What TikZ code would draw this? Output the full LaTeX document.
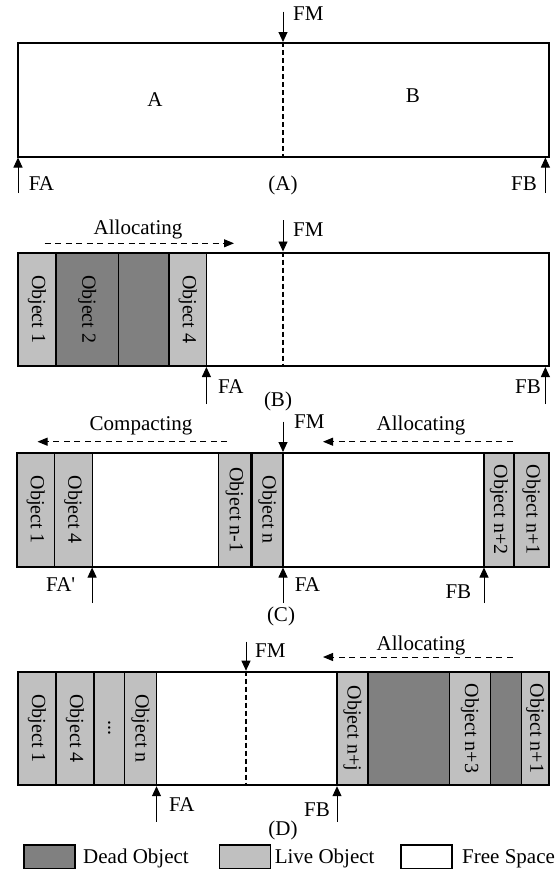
\documentclass[tikz,border=0pt]{standalone}
\usepackage{fontspec}
\setmainfont{Liberation Serif}
\usetikzlibrary{arrows.meta}
\definecolor{deadc}{HTML}{808080}
\definecolor{livec}{HTML}{C0C0C0}
\newcommand\hfnt{\fontsize{21}{25}\selectfont}
\newcommand\vfnt{\fontsize{20}{24}\selectfont}
\newcommand\memcell[7]{%
  \node[cellbox, fill=#6, minimum width={(#3-#2)*1pt}, minimum height={(#5-#4)*1pt}] (#1) at ({(#2+#3)/2},{(#4+#5)/2}) {\rotatebox{-90}{#7}};}
\newcommand\memframe[5]{%
  \node[framebox, minimum width={(#3-#2)*1pt}, minimum height={(#5-#4)*1pt}] (#1) at ({(#2+#3)/2},{(#4+#5)/2}) {};}
\tikzset{
 cellbox/.style={draw, line width=1.2pt, inner sep=0pt, outer sep=0pt, font=\vfnt},
 framebox/.style={draw, line width=2pt, inner sep=0pt},
 lbl/.style={font=\hfnt, inner sep=0pt},
 ptr/.style={line width=0.9pt, -{Triangle[width=9pt,length=10pt]}},
 dptr/.style={line width=1pt, dash pattern=on 6pt off 4.5pt, -{Triangle[width=8pt,length=10pt]}},
 midline/.style={line width=1.3pt, dash pattern=on 5pt off 3pt},
 legbox/.style={draw, line width=1.2pt, minimum width=51pt, minimum height=23.3pt, inner sep=0pt},
}
\begin{document}
\begin{tikzpicture}[x=1pt,y=-1pt]
\useasboundingbox (0,0) rectangle (560,871);

% ---------------- Panel A ----------------
\memframe{frA}{18}{549}{43}{156.5}
\coordinate (fmA) at (283,11.7);
\coordinate (faA) at (18,193);
\coordinate (fbA) at (545.4,193);
\draw[midline] (frA.north -| fmA) -- (frA.south -| fmA);
\draw[ptr] (fmA) -- (fmA |- frA.north);
\draw[ptr] (faA) -- (faA |- frA.south);
\draw[ptr] (fbA) -- (fbA |- frA.south);
\node[lbl, anchor=base west] (tFMa) at (293,20) {FM};
\node[lbl, anchor=base] (tAa) at (155,106) {A};
\node[lbl, anchor=base] (tBa) at (413,102) {B};
\node[lbl, anchor=base west] (tFAa) at (28.6,190) {FA};
\node[lbl, anchor=base east] (tFBa) at (537,190) {FB};
\node[lbl, anchor=base] (capA) at (283,190) {(A)};

% ---------------- Panel B ----------------
\memcell{b1}{18}{56}{252.5}{366}{livec}{Object 1}
\memcell{b2}{56}{118.2}{252.5}{366}{deadc}{Object 2}
\memcell{b3}{118.2}{169}{252.5}{366}{deadc}{}
\memcell{b4}{169}{206.4}{252.5}{366}{livec}{Object 4}
\memframe{frB}{18}{549}{252.5}{366}
\coordinate (fmB) at (283,220);
\coordinate (faB) at (206.4,404);
\coordinate (fbB) at (545.4,404);
\coordinate (alB1) at (44.6,243.3);
\coordinate (alB2) at (234,243.3);
\draw[midline] (frB.north -| fmB) -- (frB.south -| fmB);
\draw[ptr] (fmB) -- (fmB |- frB.north);
\draw[ptr] (faB) -- (faB |- frB.south);
\draw[ptr] (fbB) -- (fbB |- frB.south);
\draw[dptr] (alB1) -- (alB2);
\node[lbl, anchor=base] (tAlB) at (138,234) {Allocating};
\node[lbl, anchor=base west] (tFMb) at (293,236) {FM};
\node[lbl, anchor=base west] (tFAb) at (218,393) {FA};
\node[lbl, anchor=base east] (tFBb) at (541,393) {FB};
\node[lbl, anchor=base] (capB) at (278,406) {(B)};

% ---------------- Panel C ----------------
\memcell{c1}{17}{54.3}{453}{566.5}{livec}{Object 1}
\memcell{c2}{54.3}{92.1}{453}{566.5}{livec}{Object 4}
\memcell{c3}{218.6}{250.6}{453}{566.5}{livec}{Object n-1}
\memcell{c4}{252}{283}{453}{566.5}{livec}{Object n}
\memcell{c5}{484}{514}{453}{566.5}{livec}{Object n+2}
\memcell{c6}{514}{549}{453}{566.5}{livec}{Object n+1}
\memframe{frC}{17}{549}{453}{566.5}
\coordinate (fmC) at (283,421.7);
\coordinate (fapC) at (92.1,603);
\coordinate (faC) at (283,603);
\coordinate (fbC) at (484,603);
\coordinate (cpC1) at (227,441.7);
\coordinate (cpC2) at (37.5,441.7);
\coordinate (alC1) at (512.5,441.7);
\coordinate (alC2) at (323,441.7);
\draw[ptr] (fmC) -- (fmC |- frC.north);
\draw[ptr] (fapC) -- (fapC |- frC.south);
\draw[ptr] (faC) -- (faC |- frC.south);
\draw[ptr] (fbC) -- (fbC |- frC.south);
\draw[dptr] (cpC1) -- (cpC2);
\draw[dptr] (alC1) -- (alC2);
\node[lbl, anchor=base] (tCpC) at (141,430) {Compacting};
\node[lbl, anchor=base] (tAlC) at (421,430) {Allocating};
\node[lbl, anchor=base west] (tFMc) at (294,428) {FM};
\node[lbl, anchor=base] (tFApC) at (60.7,591.7) {FA\textquotesingle};
\node[lbl, anchor=base west] (tFAc) at (294.6,591.7) {FA};
\node[lbl, anchor=base east] (tFBc) at (471.4,598) {FB};
\node[lbl, anchor=base] (capC) at (281,621.7) {(C)};

% ---------------- Panel D ----------------
\memcell{d1}{18}{56}{671.7}{785.2}{livec}{Object 1}
\memcell{d2}{56}{94}{671.7}{785.2}{livec}{Object 4}
\memcell{d3}{94}{124.3}{671.7}{785.2}{livec}{...}
\memcell{d4}{124.3}{156.5}{671.7}{785.2}{livec}{Object n}
\memcell{d5}{337}{367.9}{671.7}{785.2}{livec}{Object n+j}
\memcell{d6}{367.9}{449.3}{671.7}{785.2}{deadc}{}
\memcell{d7}{449.3}{490.4}{671.7}{785.2}{livec}{Object n+3}
\memcell{d8}{490.4}{521.4}{671.7}{785.2}{deadc}{}
\memcell{d9}{521.4}{549}{671.7}{785.2}{livec}{Object n+1}
\memframe{frD}{18}{549}{671.7}{785.2}
\coordinate (fmD) at (246,641.7);
\coordinate (faD) at (156.5,821.7);
\coordinate (fbD) at (337,821.7);
\coordinate (alD1) at (512.5,657);
\coordinate (alD2) at (323,657);
\draw[midline] (frD.north -| fmD) -- (frD.south -| fmD);
\draw[ptr] (fmD) -- (fmD |- frD.north);
\draw[ptr] (faD) -- (faD |- frD.south);
\draw[ptr] (fbD) -- (fbD |- frD.south);
\draw[dptr] (alD1) -- (alD2);
\node[lbl, anchor=base] (tAlD) at (421,650) {Allocating};
\node[lbl, anchor=base west] (tFMd) at (255,657.3) {FM};
\node[lbl, anchor=base west] (tFAd) at (169,811.7) {FA};
\node[lbl, anchor=base east] (tFBd) at (330,816.3) {FB};
\node[lbl, anchor=base] (capD) at (283,835) {(D)};

% ---------------- Legend ----------------
\node[legbox, fill=deadc] (lgDead) at (49.5,856.6) {};
\node[lbl, anchor=base west] (lgDeadT) at (83,863) {Dead Object};
\node[legbox, fill=livec] (lgLive) at (245.3,856.6) {};
\node[lbl, anchor=base west] (lgLiveT) at (274.6,863) {Live Object};
\node[legbox, fill=white] (lgFree) at (426.5,856.6) {};
\node[lbl, anchor=base west] (lgFreeT) at (462,863) {Free Space};
\end{tikzpicture}
\end{document}
